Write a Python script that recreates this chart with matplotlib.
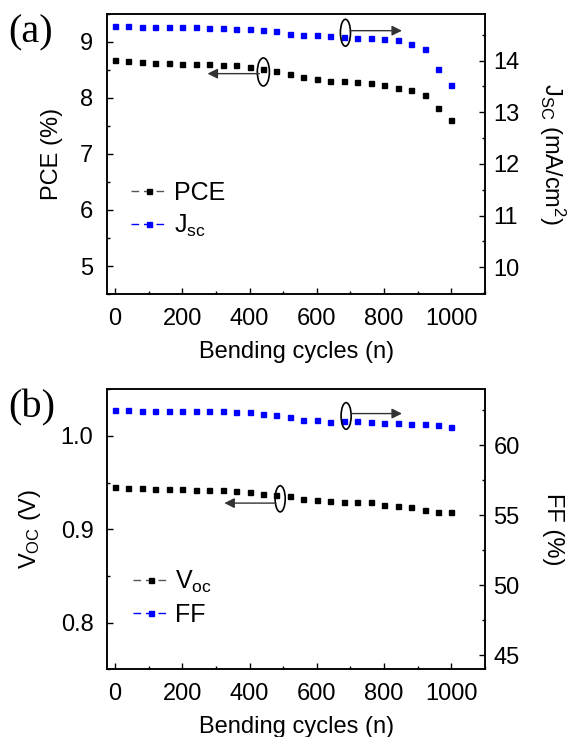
import matplotlib
matplotlib.use('Agg')
from matplotlib import pyplot as plt, patches
from matplotlib.lines import Line2D
from matplotlib.ticker import MultipleLocator

plt.rcParams['font.family'] = ['Liberation Sans', 'DejaVu Sans']
plt.rcParams['mathtext.fontset'] = 'custom'
plt.rcParams['mathtext.rm'] = 'Liberation Sans'
plt.rcParams['mathtext.it'] = 'Liberation Sans:italic'
plt.rcParams['axes.linewidth'] = 1.1

# bending cycles (n)
cycles = [0, 40, 80, 120, 160, 200, 240, 280, 320, 360, 400, 440, 480,
          520, 560, 600, 640, 680, 720, 760, 800, 840, 880, 920, 960, 1000]
# panel (a)
pce = [8.67, 8.65, 8.64, 8.62, 8.62, 8.61, 8.61, 8.60, 8.59, 8.58, 8.55, 8.52, 8.48,
       8.42, 8.37, 8.34, 8.30, 8.29, 8.28, 8.27, 8.22, 8.18, 8.13, 8.05, 7.81, 7.61]
jsc = [14.68, 14.67, 14.66, 14.66, 14.66, 14.66, 14.65, 14.63, 14.63, 14.62, 14.61, 14.59, 14.58,
       14.52, 14.50, 14.50, 14.48, 14.46, 14.44, 14.44, 14.41, 14.39, 14.32, 14.22, 13.83, 13.52]
# panel (b)
voc = [0.945, 0.944, 0.944, 0.943, 0.943, 0.943, 0.942, 0.942, 0.942, 0.941, 0.940, 0.938, 0.937,
       0.936, 0.932, 0.931, 0.930, 0.929, 0.929, 0.929, 0.926, 0.925, 0.924, 0.921, 0.919, 0.918]
ff = [62.51, 62.54, 62.47, 62.47, 62.47, 62.42, 62.44, 62.42, 62.42, 62.40, 62.35, 62.26, 62.16,
      62.04, 61.83, 61.83, 61.66, 61.73, 61.76, 61.64, 61.59, 61.57, 61.52, 61.49, 61.42, 61.30]

BLUE = '#0000ff'
MS = 3.6
TICK_FS = 17
LABEL_FS = 17
LEG_FS = 18


def style_axis(ax, side):
    ax.tick_params(axis='y', which='both', direction='in', labelsize=TICK_FS,
                   left=(side == 'left'), right=(side == 'right'),
                   labelleft=(side == 'left'), labelright=(side == 'right'),
                   pad=10 if side == 'left' else 6)
    ax.tick_params(axis='y', which='major', length=4, width=1)
    ax.tick_params(axis='y', which='minor', length=2.5, width=1)
    ax.tick_params(axis='x', which='both', direction='in', labelsize=TICK_FS, pad=10,
                   top=False)
    ax.tick_params(axis='x', which='major', length=4, width=1)
    ax.tick_params(axis='x', which='minor', length=2.5, width=1)


def add_marks(ax, ell_xy, ell_w, ell_h, start, tip):
    ax.add_patch(patches.Ellipse(ell_xy, ell_w, ell_h, fill=False, color='black',
                                 lw=1.2, zorder=5))
    ax.annotate('', xy=tip, xytext=start,
                arrowprops=dict(arrowstyle='-|>', color='#333333', lw=1,
                                mutation_scale=15, shrinkA=0, shrinkB=0), zorder=5)


def legend_handle(color, line_color):
    # thin line broken around the square marker
    return Line2D([], [], color=line_color, lw=1, linestyle=(0, (5.5, 3.5)), marker='s',
                  ms=MS, mfc=color, mec=color)


fig = plt.figure(figsize=(5.83, 7.37), dpi=100)

# ---------------- panel (a)
ax1 = fig.add_axes([0.184, 0.601, 0.648, 0.3805])
ax2 = ax1.twinx()
ax1.plot(cycles, pce, linestyle='none', marker='s', ms=MS, color='black')
ax2.plot(cycles, jsc, linestyle='none', marker='s', ms=MS, color=BLUE)
ax1.set_xlim(-23, 1100)
ax1.set_ylim(4.5, 9.5)
ax2.set_ylim(9.48, 14.91)
ax1.xaxis.set_major_locator(MultipleLocator(200))
ax1.xaxis.set_minor_locator(MultipleLocator(100))
ax1.yaxis.set_major_locator(MultipleLocator(1))
ax1.yaxis.set_minor_locator(MultipleLocator(0.5))
ax2.yaxis.set_major_locator(MultipleLocator(1))
ax2.yaxis.set_minor_locator(MultipleLocator(0.5))
style_axis(ax1, 'left')
style_axis(ax2, 'right')
ax1.set_xlabel('Bending cycles (n)', fontsize=LABEL_FS, labelpad=8)
ax1.set_ylabel('PCE (%)', fontsize=LABEL_FS, labelpad=12)
ax2.set_ylabel(r'J$_{\mathrm{SC}}$ (mA/cm$^{2}$)', fontsize=LABEL_FS, rotation=270,
               labelpad=34)
add_marks(ax1, (441, 8.46), 36, 0.5, (429, 8.43), (275, 8.43))
add_marks(ax2, (685, 14.54), 30, 0.52, (699, 14.58), (853, 14.58))
h_a = [legend_handle('black', '#555555'), legend_handle(BLUE, BLUE)]
ax1.legend(h_a, ['PCE', r'J$_{\mathrm{sc}}$'], loc='center left', bbox_to_anchor=(0.03, 0.30),
           frameon=False, fontsize=LEG_FS, handlelength=1.45, handletextpad=0.25,
           labelspacing=0.3, borderpad=0)
fig.text(0.015, 0.955, '(a)', fontsize=29, family='Liberation Serif', va='center')

# ---------------- panel (b)
ax3 = fig.add_axes([0.184, 0.0919, 0.648, 0.38])
ax4 = ax3.twinx()
ax3.plot(cycles, voc, linestyle='none', marker='s', ms=MS, color='black')
ax4.plot(cycles, ff, linestyle='none', marker='s', ms=MS, color=BLUE)
ax3.set_xlim(-23, 1100)
ax3.set_ylim(0.75, 1.05)
ax4.set_ylim(44, 64)
ax3.xaxis.set_major_locator(MultipleLocator(200))
ax3.xaxis.set_minor_locator(MultipleLocator(100))
ax3.yaxis.set_major_locator(MultipleLocator(0.1))
ax3.yaxis.set_minor_locator(MultipleLocator(0.05))
ax4.yaxis.set_major_locator(MultipleLocator(5))
ax4.yaxis.set_minor_locator(MultipleLocator(2.5))
style_axis(ax3, 'left')
style_axis(ax4, 'right')
ax3.set_xlabel('Bending cycles (n)', fontsize=LABEL_FS, labelpad=8)
ax3.set_ylabel(r'V$_{\mathrm{OC}}$ (V)', fontsize=LABEL_FS, labelpad=13)
ax4.set_ylabel('FF (%)', fontsize=LABEL_FS, rotation=270, labelpad=32)
add_marks(ax3, (491, 0.9326), 30, 0.028, (478, 0.928), (325, 0.928))
add_marks(ax4, (687, 62.09), 30, 1.9, (701, 62.26), (853, 62.26))
h_b = [legend_handle('black', '#555555'), legend_handle(BLUE, BLUE)]
ax3.legend(h_b, [r'V$_{\mathrm{oc}}$', 'FF'], loc='center left', bbox_to_anchor=(0.035, 0.255),
           frameon=False, fontsize=LEG_FS, handlelength=1.45, handletextpad=0.25,
           labelspacing=0.3, borderpad=0)
fig.text(0.015, 0.447, '(b)', fontsize=29, family='Liberation Serif', va='center')

fig.savefig('out.png', dpi=100)
